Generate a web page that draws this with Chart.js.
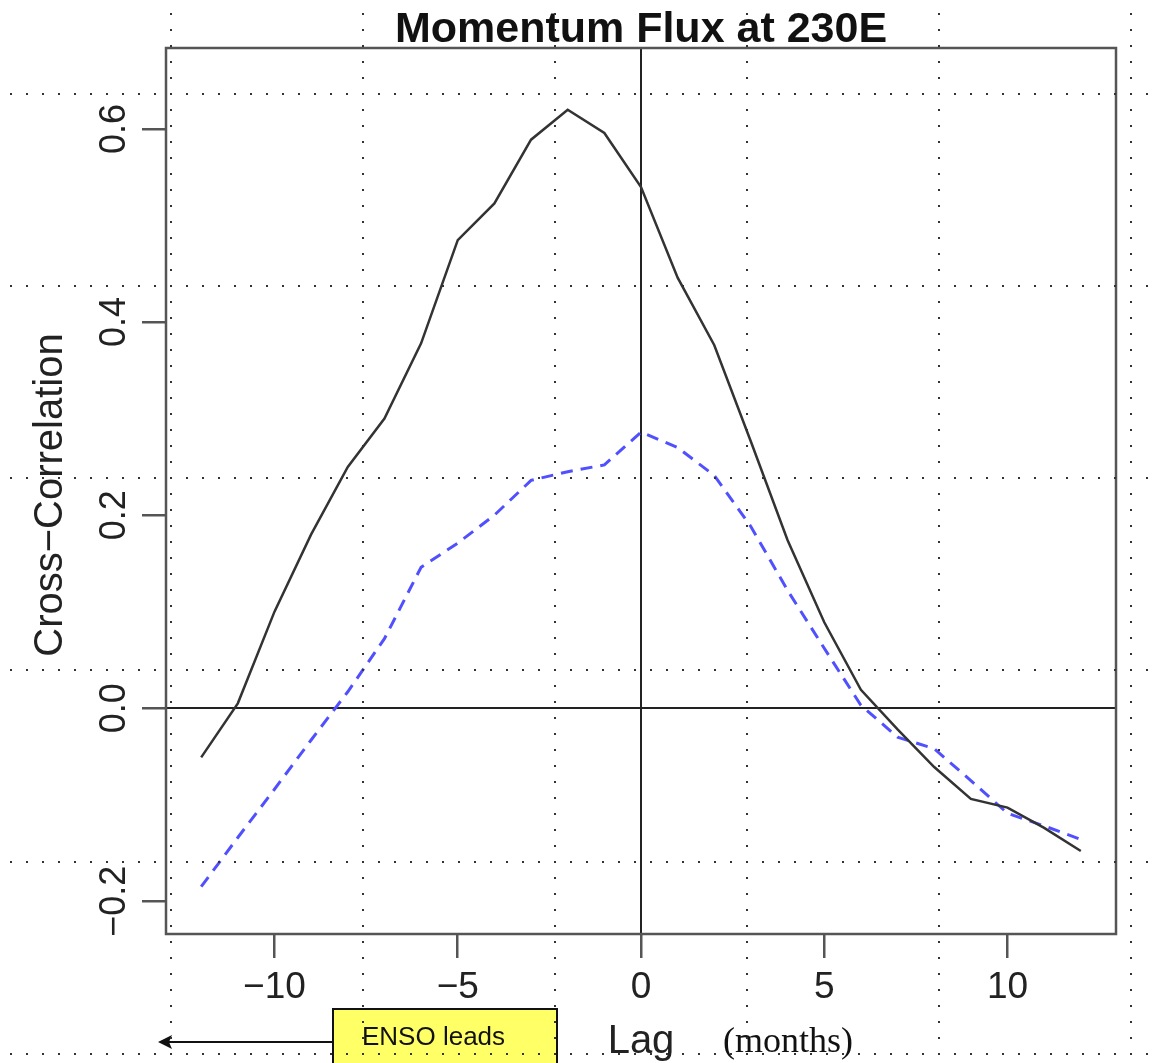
<!DOCTYPE html>
<html>
<head>
<meta charset="utf-8">
<script src="https://cdn.jsdelivr.net/npm/chart.js@4.4.1/dist/chart.umd.min.js"></script>
<style>
  html, body { margin: 0; padding: 0; background: #fff; }
  canvas { display: block; }
</style>
</head>
<body>
<canvas id="ccf" width="1160" height="1063"></canvas>
<script>
// lag in months, ENSO leads for negative lags
const lags = [-12, -11, -10, -9, -8, -7, -6, -5, -4, -3, -2, -1, 0, 1, 2, 3, 4, 5, 6, 7, 8, 9, 10, 11, 12];
const solidCorr = [-0.051, 0.005, 0.100, 0.180, 0.250, 0.300, 0.378, 0.485, 0.523, 0.589, 0.620, 0.596, 0.540,
                   0.446, 0.376, 0.276, 0.174, 0.089, 0.019, -0.022, -0.061, -0.094, -0.103, -0.124, -0.148];
const dashedCorr = [-0.185, -0.134, -0.084, -0.033, 0.017, 0.072, 0.146, 0.171, 0.200, 0.236, 0.245, 0.252, 0.286,
                    0.270, 0.241, 0.188, 0.122, 0.062, 0.003, -0.030, -0.042, -0.075, -0.109, -0.122, -0.136];
const xTicks = [-10, -5, 0, 5, 10];
const yTicks = [-0.2, 0.0, 0.2, 0.4, 0.6];

const SANS = '"Liberation Sans", Arial, sans-serif';
const SERIF = '"Liberation Serif", "Times New Roman", serif';

function minus(s) { return s.replace('-', '\u2212'); }

// frame, zero lines, rotated y labels, titles and the notes under the plot
const decorations = {
    id: 'decorations',
    beforeDatasetsDraw(chart) {
        const { ctx, chartArea: a, scales: { x, y } } = chart;
        ctx.save();
        ctx.strokeStyle = '#222';
        ctx.lineWidth = 2;
        const y0 = Math.round(y.getPixelForValue(0));
        const x0 = Math.round(x.getPixelForValue(0));
        ctx.beginPath();
        ctx.moveTo(a.left, y0); ctx.lineTo(a.right, y0);
        ctx.moveTo(x0, a.top); ctx.lineTo(x0, a.bottom);
        ctx.stroke();
        ctx.restore();
    },
    afterDraw(chart) {
        const { ctx, chartArea: a, scales: { x, y } } = chart;
        ctx.save();
        ctx.strokeStyle = '#555';
        ctx.lineWidth = 2.5;
        ctx.strokeRect(a.left, a.top, a.right - a.left, a.bottom - a.top);

        // y tick labels, rotated like R does
        ctx.fillStyle = '#222';
        ctx.font = '36px ' + SANS;
        ctx.textAlign = 'center';
        ctx.textBaseline = 'alphabetic';
        yTicks.forEach(v => {
            ctx.save();
            ctx.translate(125, y.getPixelForValue(v));
            ctx.rotate(-Math.PI / 2);
            ctx.fillText(minus(v.toFixed(1)), 0, 0);
            ctx.restore();
        });

        // y axis title
        ctx.save();
        ctx.font = '40px ' + SANS;
        ctx.translate(62, (a.top + a.bottom) / 2 + 4);
        ctx.rotate(-Math.PI / 2);
        ctx.fillText('Cross\u2212Correlation', 0, 0);
        ctx.restore();

        // main title
        ctx.fillStyle = '#111';
        ctx.font = 'bold 43px ' + SANS;
        ctx.fillText('Momentum Flux at 230E', x.getPixelForValue(0), 42);

        // x axis title
        ctx.fillStyle = '#222';
        ctx.font = '40px ' + SANS;
        ctx.fillText('Lag', x.getPixelForValue(0), 1053);
        ctx.fillStyle = '#111';
        ctx.font = '36px ' + SERIF;
        ctx.fillText('(months)', 788, 1052);

        // ENSO leads note with arrow
        ctx.fillStyle = '#ffff66';
        ctx.fillRect(333, 1009, 224, 60);
        ctx.strokeStyle = '#111';
        ctx.lineWidth = 2;
        ctx.strokeRect(333, 1009, 224, 60);
        ctx.fillStyle = '#111';
        ctx.font = '26px ' + SANS;
        ctx.textAlign = 'left';
        ctx.fillText('ENSO leads', 362, 1045);
        ctx.beginPath();
        ctx.moveTo(333, 1042); ctx.lineTo(160, 1042);
        ctx.stroke();
        ctx.beginPath();
        ctx.moveTo(158, 1042); ctx.lineTo(172, 1035); ctx.lineTo(169, 1042); ctx.lineTo(172, 1049);
        ctx.closePath();
        ctx.fill();

        // dotted overlay grid over the whole picture
        ctx.fillStyle = '#333';
        for (let gx = 171; gx < 1160; gx += 192) {
            for (let gy = 14; gy < 1063; gy += 16) ctx.fillRect(gx - 1, gy - 1, 2, 2);
        }
        for (let gy = 94; gy < 1063; gy += 192) {
            for (let gx = 11; gx < 1160; gx += 16) ctx.fillRect(gx - 1, gy - 1, 2, 2);
        }
        ctx.restore();
    }
};

new Chart(document.getElementById('ccf'), {
    type: 'line',
    data: {
        datasets: [{
            label: 'solid',
            data: lags.map((l, i) => ({ x: l, y: solidCorr[i] })),
            borderColor: '#333',
            borderWidth: 2.5,
            pointRadius: 0,
            tension: 0
        },
        {
            label: 'dashed',
            data: lags.map((l, i) => ({ x: l, y: dashedCorr[i] })),
            borderColor: '#5050ff',
            borderWidth: 3,
            borderDash: [12, 8],
            pointRadius: 0,
            tension: 0
        }]
    },
    options: {
        responsive: false,
        animation: false,
        devicePixelRatio: 1,
        layout: { padding: { left: 0, top: 48, right: 44, bottom: 49 } },
        plugins: { legend: { display: false }, title: { display: false }, tooltip: { enabled: false } },
        scales: {
            x: {
                type: 'linear',
                min: -12.96,
                max: 12.96,
                afterBuildTicks: s => { s.ticks = xTicks.map(v => ({ value: v })); },
                afterFit: s => { s.height = 80; },
                border: { display: false },
                grid: { drawOnChartArea: false, drawTicks: true, tickLength: 24, color: '#555', lineWidth: 2.5 },
                ticks: {
                    font: { family: SANS, size: 37 },
                    color: '#222',
                    padding: 8,
                    maxRotation: 0,
                    callback: v => minus(String(v))
                }
            },
            y: {
                min: -0.234,
                max: 0.684,
                afterBuildTicks: s => { s.ticks = yTicks.map(v => ({ value: v })); },
                afterFit: s => { s.width = 166; },
                border: { display: false },
                grid: { drawOnChartArea: false, drawTicks: true, tickLength: 24, color: '#555', lineWidth: 2.5 },
                ticks: { display: false }
            }
        }
    },
    plugins: [decorations]
});
</script>
</body>
</html>
